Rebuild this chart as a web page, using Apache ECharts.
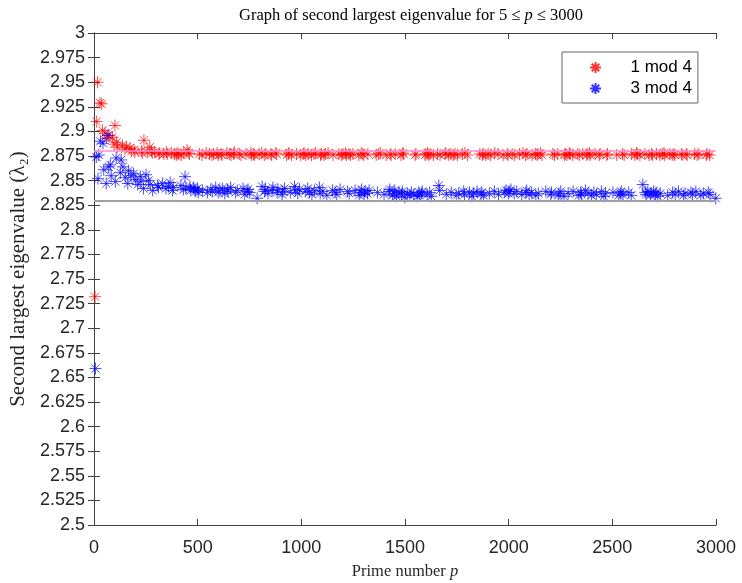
<!DOCTYPE html>
<html>
<head>
<meta charset="utf-8">
<script src="https://cdn.jsdelivr.net/npm/echarts@6/dist/echarts.min.js"></script>
<style>html,body{margin:0;padding:0;background:#fff}#c{width:742px;height:583px}</style>
</head>
<body>
<div id="c"></div>
<script>
// ---- data: [prime p, second largest eigenvalue] ----
var mod1 = [[5,2.732],[13,2.910],[17,2.950],[29,2.929],[37,2.928],[41,2.901],[53,2.898],[61,2.893],[73,2.896],[89,2.894],[97,2.887],[101,2.906],[109,2.889],[113,2.884],[137,2.886],[149,2.882],[157,2.884],[173,2.883],[181,2.880],[193,2.881],[197,2.879],[229,2.880],[233,2.878],[241,2.891],[257,2.879],[269,2.884],[277,2.880],[281,2.878],[293,2.879],[313,2.877],[317,2.878],[337,2.877],[349,2.879],[353,2.877],[373,2.878],[389,2.877],[397,2.876],[401,2.878],[409,2.877],[421,2.876],[433,2.878],[449,2.881],[457,2.878],[461,2.877],
[509,2.877],[521,2.876],[541,2.878],[557,2.877],[569,2.876],[577,2.877],[593,2.878],[601,2.876],[613,2.877],[617,2.876],[641,2.878],[653,2.877],[661,2.876],[673,2.877],[677,2.879],[701,2.877],[709,2.876],[733,2.877],[757,2.878],[761,2.876],[769,2.877],[773,2.876],[797,2.877],[809,2.878],[821,2.876],[829,2.877],[853,2.877],[857,2.876],[877,2.878],[881,2.877],[929,2.876],[937,2.877],[941,2.878],[953,2.876],[977,2.877],[997,2.876],
[1009,2.877],[1013,2.878],[1021,2.876],[1033,2.877],[1049,2.876],[1061,2.877],[1069,2.878],[1093,2.876],[1097,2.877],[1109,2.876],[1117,2.877],[1129,2.878],[1153,2.876],[1181,2.877],[1193,2.876],[1201,2.877],[1213,2.878],[1217,2.876],[1229,2.877],[1237,2.876],[1249,2.877],[1277,2.876],[1289,2.878],[1297,2.877],[1301,2.876],[1321,2.877],[1361,2.876],[1373,2.877],[1381,2.878],[1409,2.876],[1429,2.877],[1433,2.876],[1453,2.877],[1481,2.876],[1489,2.878],[1493,2.877],[1549,2.876],[1553,2.877],[1597,2.876],[1601,2.877],[1609,2.878],[1613,2.876],[1621,2.877],[1637,2.876],[1657,2.877],[1669,2.876],[1693,2.877],[1697,2.878],[1709,2.876],[1721,2.877],[1733,2.876],[1741,2.877],[1753,2.876],[1777,2.877],[1789,2.878],[1801,2.876],[1861,2.877],[1873,2.876],[1877,2.877],[1889,2.876],[1901,2.877],[1913,2.876],[1933,2.878],[1949,2.877],[1973,2.876],[1993,2.877],[1997,2.876],
[2017,2.877],[2029,2.876],[2053,2.877],[2069,2.878],[2081,2.876],[2089,2.877],[2113,2.876],[2129,2.877],[2137,2.876],[2141,2.877],[2153,2.878],[2161,2.876],[2213,2.877],[2221,2.876],[2237,2.877],[2269,2.876],[2273,2.877],[2281,2.876],[2293,2.878],[2297,2.877],[2309,2.876],[2333,2.877],[2341,2.876],[2357,2.877],[2377,2.876],[2381,2.877],[2389,2.878],[2393,2.876],[2417,2.877],[2437,2.876],[2441,2.877],[2473,2.876],[2477,2.877],[2521,2.876],[2549,2.877],[2557,2.876],[2593,2.877],[2609,2.876],[2617,2.878],[2621,2.877],[2633,2.876],[2657,2.877],[2677,2.876],[2689,2.877],[2693,2.876],[2713,2.877],[2729,2.876],[2741,2.877],[2749,2.878],[2753,2.876],[2777,2.877],[2789,2.876],[2797,2.877],[2801,2.876],[2833,2.877],[2837,2.876],[2857,2.877],[2861,2.876],[2897,2.877],[2909,2.876],[2917,2.877],[2953,2.876],[2957,2.877],[2969,2.876]];

var mod3 = [[7,2.659],[11,2.874],[19,2.852],[23,2.876],[31,2.890],[43,2.888],[47,2.861],[59,2.847],[67,2.896],[71,2.864],[79,2.866],[83,2.855],[103,2.849],[107,2.873],[127,2.858],[131,2.871],[139,2.864],[151,2.853],[163,2.847],[167,2.860],[179,2.855],[191,2.857],[199,2.851],[211,2.846],[223,2.854],[227,2.849],[239,2.842],[251,2.856],[263,2.850],[271,2.846],[283,2.840],[307,2.845],[311,2.843],[331,2.847],[347,2.842],[359,2.844],[367,2.848],[379,2.840],[383,2.843],[419,2.845],[431,2.841],[439,2.854],[443,2.842],[463,2.844],[467,2.840],[479,2.843],[487,2.841],[491,2.839],[499,2.842],
[503,2.838],[523,2.840],[547,2.838],[563,2.841],[571,2.839],[587,2.843],[599,2.838],[607,2.840],[619,2.842],[631,2.837],[643,2.841],[647,2.839],[659,2.843],[683,2.838],[691,2.840],[719,2.842],[727,2.836],[739,2.839],[743,2.841],[751,2.838],[787,2.832],[811,2.844],[823,2.839],[827,2.841],[839,2.837],[859,2.840],[863,2.843],[883,2.838],[887,2.841],[907,2.836],[911,2.839],[919,2.842],[947,2.838],[967,2.844],[971,2.840],[983,2.837],[991,2.841],
[1019,2.839],[1031,2.842],[1039,2.838],[1051,2.836],[1063,2.840],[1087,2.843],[1091,2.837],[1103,2.839],[1123,2.835],[1151,2.840],[1163,2.838],[1171,2.836],[1187,2.841],[1223,2.839],[1231,2.837],[1259,2.840],[1279,2.835],[1283,2.838],[1291,2.841],[1303,2.836],[1307,2.839],[1319,2.837],[1327,2.840],[1367,2.838],[1399,2.836],[1423,2.839],[1427,2.841],[1439,2.835],[1447,2.837],[1451,2.840],[1459,2.834],[1471,2.838],[1483,2.836],[1487,2.839],[1499,2.833],[1511,2.837],[1523,2.835],[1531,2.838],[1543,2.836],[1559,2.834],[1567,2.838],[1571,2.835],[1579,2.837],[1583,2.839],[1607,2.836],[1619,2.838],[1627,2.834],[1663,2.845],[1667,2.840],[1699,2.836],[1723,2.838],[1747,2.835],[1759,2.837],[1783,2.839],[1787,2.836],[1811,2.838],[1823,2.834],[1831,2.837],[1847,2.839],[1867,2.836],[1871,2.838],[1879,2.835],[1907,2.837],[1931,2.839],[1951,2.836],[1979,2.838],[1987,2.840],[1999,2.837],
[2003,2.839],[2011,2.841],[2027,2.837],[2039,2.839],[2063,2.836],[2083,2.838],[2087,2.840],[2099,2.836],[2111,2.838],[2131,2.835],[2143,2.837],[2179,2.839],[2203,2.836],[2207,2.838],[2239,2.835],[2243,2.837],[2251,2.839],[2267,2.834],[2287,2.837],[2311,2.839],[2339,2.835],[2347,2.838],[2351,2.836],[2371,2.840],[2383,2.837],[2399,2.835],[2411,2.838],[2423,2.836],[2447,2.839],[2459,2.834],[2467,2.837],[2503,2.838],[2531,2.835],[2539,2.837],[2543,2.839],[2551,2.836],[2579,2.838],[2591,2.835],[2647,2.846],[2659,2.838],[2663,2.836],[2671,2.839],[2683,2.835],[2687,2.837],[2699,2.839],[2707,2.836],[2711,2.838],[2719,2.834],[2731,2.837],[2767,2.835],[2791,2.838],[2803,2.836],[2819,2.839],[2843,2.835],[2851,2.837],[2879,2.838],[2887,2.836],[2903,2.839],[2927,2.835],[2939,2.837],[2963,2.838],[2971,2.836],[2999,2.832]];

var seriesNames = ['1 mod 4', '3 mod 4'];
var refLines = [2.8765, 2.8284];   // pink reference (1 mod 4 level) and 2*sqrt(2)
var xTicks = {min: 0, max: 3000, interval: 500};
var yTicks = {min: 2.5, max: 3, interval: 0.025};

var star = 'path://M5,0L5,10M0,5L10,5M1.6,1.6L8.4,8.4M1.6,8.4L8.4,1.6';
var axisCol = '#404040';
var sans = '"Liberation Sans", Arial, Helvetica, sans-serif';
var serif = '"Liberation Serif", "DejaVu Serif", serif';

function fmt(v){ return String(parseFloat(Number(v).toFixed(3))); }

var chart = echarts.init(document.getElementById('c'), null, {renderer: 'canvas'});
chart.setOption({
  animation: false,
  backgroundColor: '#ffffff',
  title: {
    text: '{n|Graph of second largest eigenvalue for 5 ≤ }{i|p}{n| ≤ 3000}',
    left: 406, top: 2, textAlign: 'center',
    textStyle: {
      fontWeight: 'normal',
      rich: {
        n: {fontFamily: serif, fontSize: 16.5, fontWeight: 'normal', color: '#000'},
        i: {fontFamily: serif, fontSize: 16.5, fontWeight: 'normal', fontStyle: 'italic', color: '#000'}
      }
    }
  },
  grid: {left: 94, right: 26, top: 33, bottom: 58, containLabel: false, outerBoundsMode: 'none'},
  legend: {
    data: [{name: seriesNames[0], icon: star}, {name: seriesNames[1], icon: star}],
    orient: 'vertical', left: 562, top: 52,
    itemWidth: 60, itemHeight: 11, itemGap: 4,
    padding: [7, 6, 6, 27],
    borderColor: '#666', borderWidth: 1, backgroundColor: '#fff',
    textStyle: {fontFamily: sans, fontSize: 17, color: '#000'}
  },
  xAxis: [{
    type: 'value', min: xTicks.min, max: xTicks.max, interval: xTicks.interval,
    name: '{n|Prime number }{i|p}', nameLocation: 'middle', nameGap: 38,
    nameTextStyle: {rich: {
      n: {fontFamily: serif, fontSize: 16.5, color: '#262626'},
      i: {fontFamily: serif, fontSize: 16.5, fontStyle: 'italic', color: '#262626'}}},
    axisLine: {show: true, lineStyle: {color: axisCol, width: 1}},
    axisTick: {show: true, inside: true, length: 6, lineStyle: {color: axisCol}},
    axisLabel: {fontFamily: sans, fontSize: 18, color: '#262626', margin: 14, formatter: fmt},
    splitLine: {show: false}
  }, {
    type: 'value', position: 'top', min: xTicks.min, max: xTicks.max, interval: xTicks.interval,
    axisLine: {show: true, lineStyle: {color: axisCol, width: 1}},
    axisTick: {show: true, inside: true, length: 6, lineStyle: {color: axisCol}},
    axisLabel: {show: false}, splitLine: {show: false}
  }],
  yAxis: [{
    type: 'value', min: yTicks.min, max: yTicks.max, interval: yTicks.interval,
    name: 'Second largest eigenvalue (λ₂)', nameLocation: 'middle', nameGap: 63,
    nameTextStyle: {fontFamily: serif, fontSize: 21, color: '#262626'},
    axisLine: {show: true, lineStyle: {color: axisCol, width: 1}},
    axisTick: {show: true, inside: true, length: 6, lineStyle: {color: axisCol}},
    axisLabel: {fontFamily: sans, fontSize: 18, color: '#262626', margin: 9, formatter: fmt},
    splitLine: {show: false}
  }, {
    type: 'value', position: 'right', min: yTicks.min, max: yTicks.max, interval: yTicks.interval,
    axisLine: {show: true, lineStyle: {color: axisCol, width: 1}},
    axisTick: {show: true, inside: true, length: 6, lineStyle: {color: axisCol}},
    axisLabel: {show: false}, splitLine: {show: false}
  }],
  series: [{
    name: seriesNames[0], type: 'scatter', data: mod1,
    symbol: star, symbolSize: 12,
    itemStyle: {color: '#ff0000', borderColor: '#ff0000', borderWidth: 0.9, opacity: 0.8},
    markLine: {silent: true, symbol: 'none', label: {show: false},
      lineStyle: {color: '#ff8fd0', width: 1.5, type: 'solid'},
      data: [{yAxis: refLines[0]}]}
  }, {
    name: seriesNames[1], type: 'scatter', data: mod3,
    symbol: star, symbolSize: 12,
    itemStyle: {color: '#0000ff', borderColor: '#0000ff', borderWidth: 0.9, opacity: 0.8},
    markLine: {silent: true, symbol: 'none', label: {show: false},
      lineStyle: {color: '#a0a0a0', width: 2, type: 'solid'},
      data: [{yAxis: refLines[1]}]}
  }]
});
</script>
</body>
</html>
